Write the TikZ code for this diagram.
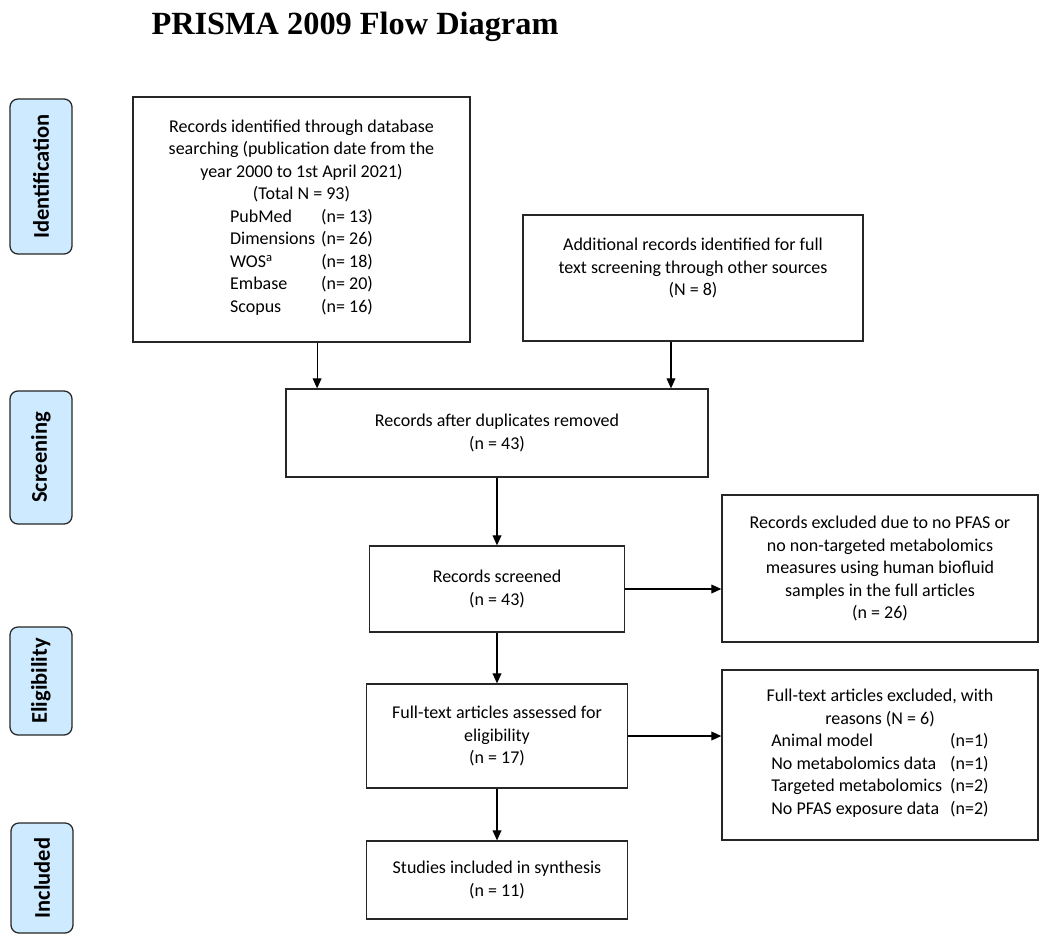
\documentclass[tikz,border=0pt]{standalone}
\usepackage{fontspec}
\setmainfont{Carlito}
\newfontfamily\titlefont{Liberation Serif}
\usetikzlibrary{arrows.meta}
\definecolor{stageblue}{RGB}{206,234,255}

\begin{document}
\begin{tikzpicture}[x=0.025cm,y=-0.025cm]
        \tikzstyle{boite}=[draw=black!85,line width=0.9pt,align=center,inner sep=2pt,font=\fontsize{12.8}{16}\selectfont]
        \tikzstyle{etape}=[draw=black!85,line width=0.9pt,fill=stageblue,rounded corners=0.2cm,rotate=90,minimum height=1.55cm,font=\fontsize{16}{19}\selectfont\bfseries]
        \tikzstyle{fleche}=[line width=0.8pt,-{Triangle[length=0.25cm,width=0.22cm]}]
        \useasboundingbox (0,0) rectangle (1050,941);
        \node (titre) at (355,27) {\titlefont\bfseries\fontsize{23}{27}\selectfont PRISMA 2009 Flow Diagram};
        \node[etape,minimum width=3.875cm] (ident) at (41,176.5) {Identification};
        \node[etape,minimum width=3.325cm] (scr) at (41,457.5) {Screening};
        \node[etape,minimum width=2.7cm] (elig) at (41,681) {Eligibility};
        \node[etape,minimum width=2.75cm] (incl) at (42,878) {Included};
        \node[boite,minimum width=8.425cm,minimum height=6.125cm] (1) at (301.5,219.5) {Records identified through database\\ searching (publication date from the\\ year 2000 to 1st April 2021)\\ (Total N = 93)\\ \begin{tabular}[t]{@{}l@{\hspace{0.15cm}}l@{}} PubMed & (n= 13)\\ Dimensions & (n= 26)\\ WOS\textsuperscript{a} & (n= 18)\\ Embase & (n= 20)\\ Scopus & (n= 16)\end{tabular}};
        \node[boite,minimum width=8.5cm,minimum height=3.15cm] (2) at (693,278) {Additional records identified for full\\ text screening through other sources\\ (N = 8)\\ \mbox{}};
        \node[boite,minimum width=10.55cm,minimum height=2.2cm] (3) at (497,433) {Records after duplicates removed\\ (n = 43)};
        \node[boite,minimum width=6.375cm,minimum height=2.15cm] (4) at (497,589) {Records screened\\ (n = 43)};
        \node[boite,minimum width=7.9cm,minimum height=3.675cm] (5) at (880,568.5) {Records excluded due to no PFAS or\\ no non-targeted metabolomics\\ measures using human biofluid\\ samples in the full articles\\ (n = 26)};
        \node[boite,minimum width=6.525cm,minimum height=2.6cm] (6) at (497,736) {Full-text articles assessed for\\ eligibility\\ (n = 17)};
        \node[boite,minimum width=7.9cm,minimum height=4.25cm] (7) at (880,755) {Full-text articles excluded, with\\ reasons (N = 6)\\ \begin{tabular}[t]{@{}l@{\hspace{0.2cm}}l@{}} Animal model & (n=1)\\ No metabolomics data & (n=1)\\ Targeted metabolomics & (n=2)\\ No PFAS exposure data & (n=2)\end{tabular}};
        \node[boite,minimum width=6.525cm,minimum height=1.95cm] (8) at (497,880) {Studies included in synthesis\\ (n = 11)};
        % arrows
        \coordinate (d1) at ([xshift=0.39cm]1.south);
        \coordinate (d2) at ([xshift=-0.55cm]2.south);
        \draw[fleche] (d1) -- (d1 |- 3.north);
        \draw[fleche] (d2) -- (d2 |- 3.north);
        \draw[fleche] (3.south) -- (3.south |- 4.north);
        \draw[fleche] (4.east) -- (4.east -| 5.west);
        \draw[fleche] (4.south) -- (4.south |- 6.north);
        \draw[fleche] (6.east) -- (6.east -| 7.west);
        \draw[fleche] (6.south) -- (6.south |- 8.north);
    \end{tikzpicture}
\end{document}
